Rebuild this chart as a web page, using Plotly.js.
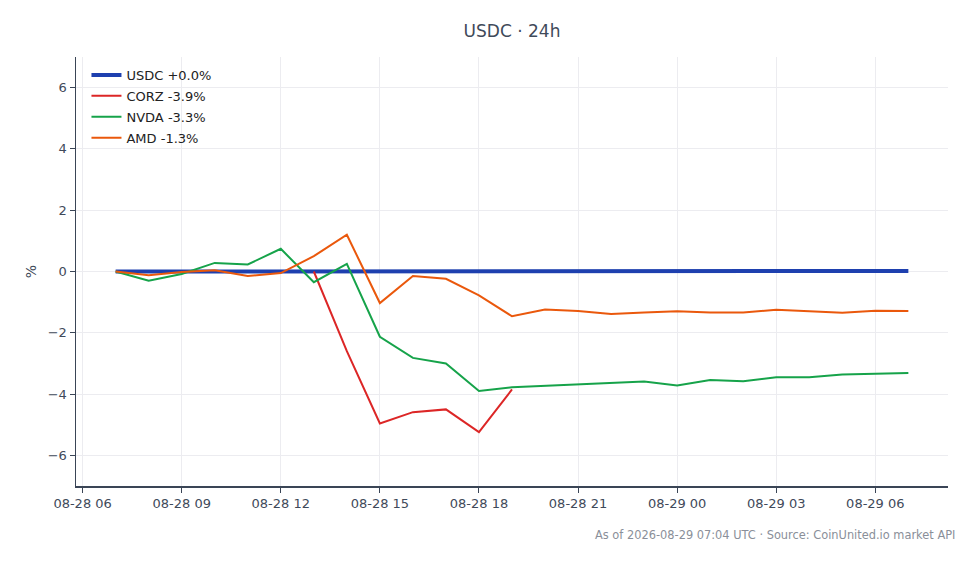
<!DOCTYPE html>
<html>
<head>
<meta charset="utf-8">
<script src="https://cdn.plot.ly/plotly-3.0.1.min.js"></script>
<style>html,body{margin:0;padding:0;background:#fff;}#chart{width:980px;height:564px;}</style>
</head>
<body>
<div id="chart"></div>
<script>
const times = [
  '2026-08-28 07:00','2026-08-28 08:00','2026-08-28 09:00','2026-08-28 10:00','2026-08-28 11:00',
  '2026-08-28 12:00','2026-08-28 13:00','2026-08-28 14:00','2026-08-28 15:00','2026-08-28 16:00',
  '2026-08-28 17:00','2026-08-28 18:00','2026-08-28 19:00','2026-08-28 20:00','2026-08-28 21:00',
  '2026-08-28 22:00','2026-08-28 23:00','2026-08-29 00:00','2026-08-29 01:00','2026-08-29 02:00',
  '2026-08-29 03:00','2026-08-29 04:00','2026-08-29 05:00','2026-08-29 06:00','2026-08-29 07:00'
];
const usdc = [0,0,0,0,0,0,0,0,0,0.01,0.02,0.02,0.02,0.02,0.02,0.02,0.02,0.02,0.02,0.02,0.02,0.02,0.02,0.02,0.02];
const corz = [null,null,null,null,null,null,0,-2.6,-4.96,-4.59,-4.5,-5.24,-3.85,null,null,null,null,null,null,null,null,null,null,null,null];
const nvda = [0,-0.3,-0.08,0.28,0.23,0.74,-0.35,0.25,-2.13,-2.82,-3.0,-3.9,-3.78,-3.73,-3.7,-3.65,-3.59,-3.72,-3.54,-3.58,-3.45,-3.45,-3.36,-3.34,-3.31];
const amd  = [0,-0.12,-0.02,0.04,-0.15,-0.05,0.5,1.2,-1.03,-0.15,-0.24,-0.78,-1.46,-1.24,-1.29,-1.39,-1.34,-1.3,-1.34,-1.34,-1.25,-1.3,-1.35,-1.28,-1.29];
const names = ['USDC +0.0%','CORZ -3.9%','NVDA -3.3%','AMD -1.3%'];
const colors = ['#1e40af','#dc2626','#16a34a','#ea580c'];
const widths = [4,2,2,2];
const series = [usdc, corz, nvda, amd];
const xRange = ['2026-08-28 05:48','2026-08-29 08:12'];
const yRange = [-7,7];
const titleText = 'USDC · 24h';
const footer = 'As of 2026-08-29 07:04 UTC · Source: CoinUnited.io market API';

const traces = series.map((s,i)=>({
  x: times, y: s, name: names[i], type:'scatter', mode:'lines', legendgroup:'g'+i,
  line:{color:colors[i], width:widths[i]}, connectgaps:false
}));

const font = "DejaVu Sans, sans-serif";
const layout = {
  width:980, height:564,
  margin:{l:76,r:32,t:57,b:78},
  paper_bgcolor:'#ffffff', plot_bgcolor:'#ffffff',
  font:{family:font, size:13, color:'#3f4a5a'},
  title:{text:titleText, xref:'paper', x:0.5, xanchor:'center', y:0.945, yanchor:'middle', font:{family:font, size:17, color:'#3f4a5a'}},
  showlegend:true,
  legend:{x:0.012, y:0.993, xanchor:'left', yanchor:'top', bgcolor:'rgba(255,255,255,0)', font:{size:13, color:'#222'}, tracegroupgap:1},
  xaxis:{
    type:'date', range:xRange, tickformat:'%m-%d %H', dtick:10800000, tick0:'2026-08-28 00:00',
    showgrid:true, gridcolor:'#ececf0', gridwidth:1,
    showline:true, linecolor:'#3a4556', linewidth:1.5,
    ticks:'outside', ticklen:5, tickcolor:'#3a4556', zeroline:false,
    tickfont:{size:13, color:'#3f4a5a'}
  },
  yaxis:{
    range:yRange, dtick:2, tick0:0,
    title:{text:'%', font:{size:14, color:'#3f4a5a'}, standoff:8},
    showgrid:true, gridcolor:'#ececf0', gridwidth:1,
    showline:true, linecolor:'#3a4556', linewidth:1.5,
    ticks:'outside', ticklen:5, tickcolor:'#3a4556', zeroline:false,
    tickfont:{size:13, color:'#3f4a5a'}
  },
  shapes:[{type:'line', xref:'paper', x0:0, x1:1, yref:'y', y0:0, y1:0, line:{color:'#8a97b0', width:1, dash:'dash'}, layer:'below'}],
  annotations:[{text:footer, xref:'paper', yref:'paper', x:1.01, y:-0.094, xanchor:'right', yanchor:'top', showarrow:false, font:{size:11.4, color:'#8a8f99'}}]
};
Plotly.newPlot('chart', traces, layout, {displayModeBar:false, staticPlot:true});
</script>
</body>
</html>
